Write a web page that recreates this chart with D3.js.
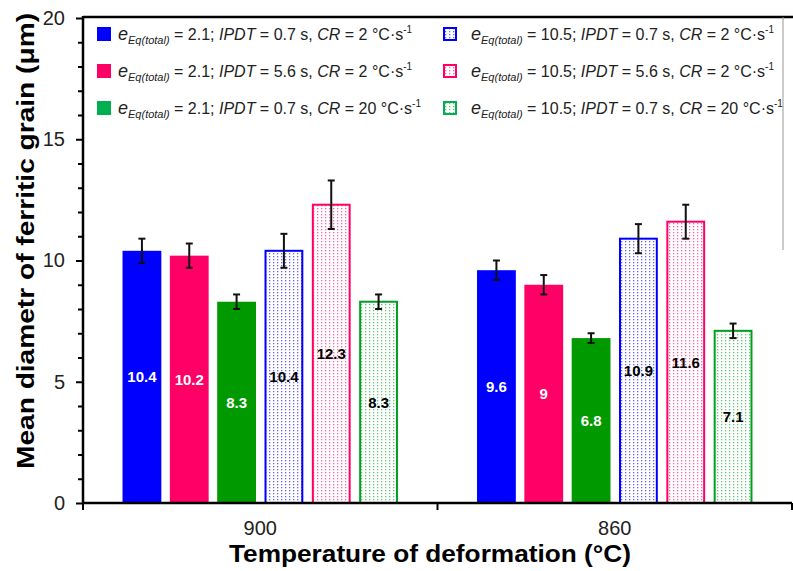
<!DOCTYPE html>
<html><head><meta charset="utf-8">
<script src="https://cdn.jsdelivr.net/npm/d3@7"></script>
<style>body{margin:0;background:#fff}svg{display:block}text{font-family:"Liberation Sans",Arial,sans-serif}</style>
</head><body>
<svg id="c" width="793" height="571"></svg>
<script>
const categories = ["900", "860"];
const seriesKeys = ["s1", "s2", "s3", "s4", "s5", "s6"];
const eqValues = ["2.1", "2.1", "2.1", "10.5", "10.5", "10.5"];
const ipdtValues = ["0.7", "5.6", "0.7", "0.7", "5.6", "0.7"];
const crValues = ["2", "2", "20", "2", "2", "20"];
const seriesColors = ["#0000ff", "#ff0066", "#009900", "#0000ff", "#ff0066", "#00a020"];
const legendColors = ["#0000ff", "#ff0066", "#00b050", "#0000ff", "#ff0066", "#00b050"];
const patterned = [false, false, false, true, true, true];
const values900 = [10.4, 10.2, 8.3, 10.4, 12.3, 8.3];
const values860 = [9.6, 9, 6.8, 10.9, 11.6, 7.1];
const errors900 = [0.5, 0.5, 0.3, 0.7, 1.0, 0.3];
const errors860 = [0.4, 0.4, 0.2, 0.6, 0.7, 0.3];
const yMajorTicks = [0, 5, 10, 15, 20];
const yMinorTicks = d3.range(0, 21, 1);

const valuesByCat = {"900": values900, "860": values860};
const errorsByCat = {"900": errors900, "860": errors860};

const svg = d3.select("#c");
const L = 83, R = 792, T = 18, B = 503;

const y = d3.scaleLinear().domain([0, 20]).range([B, T]);
const x0 = d3.scaleBand().domain(categories).range([L, R]).padding(0);
const x1 = d3.scaleBand().domain(seriesKeys).range([0, x0.bandwidth()]).paddingInner(0.18).paddingOuter(0.835);

const defs = svg.append("defs");
seriesKeys.forEach((k, i) => {
  if (!patterned[i]) return;
  const p = defs.append("pattern").attr("id", "pat" + i).attr("patternUnits", "userSpaceOnUse")
    .attr("width", 4).attr("height", 3);
  p.append("rect").attr("width", 4).attr("height", 3).attr("fill", "#fff");
  p.append("rect").attr("x", 1).attr("y", 1).attr("width", 1.3).attr("height", 1.3)
    .attr("fill", seriesColors[i]).attr("opacity", 0.6);
});

// bars
const g = svg.append("g");
categories.forEach(cat => {
  const vals = valuesByCat[cat], errs = errorsByCat[cat];
  seriesKeys.forEach((k, i) => {
    const bx = x0(cat) + x1(k), bw = x1.bandwidth();
    const v = vals[i];
    if (patterned[i]) {
      g.append("rect").attr("x", bx + 1).attr("y", y(v)).attr("width", bw - 2).attr("height", y(0) - y(v))
        .attr("fill", "url(#pat" + i + ")").attr("stroke", seriesColors[i]).attr("stroke-width", 2);
    } else {
      g.append("rect").attr("x", bx).attr("y", y(v)).attr("width", bw).attr("height", y(0) - y(v))
        .attr("fill", seriesColors[i]);
    }
    const cx = bx + bw / 2, e = errs[i];
    g.append("line").attr("x1", cx).attr("x2", cx).attr("y1", y(v + e)).attr("y2", y(v - e))
      .attr("stroke", "#111").attr("stroke-width", 2);
    [v + e, v - e].forEach(yy => g.append("line").attr("x1", cx - 3.5).attr("x2", cx + 3.5)
      .attr("y1", y(yy)).attr("y2", y(yy)).attr("stroke", "#111").attr("stroke-width", 2));
    g.append("text").attr("x", cx).attr("y", y(v / 2) + 5.5).attr("text-anchor", "middle")
      .attr("font-size", 15).attr("font-weight", "bold")
      .attr("fill", patterned[i] ? "#000" : "#fff").text(String(v));
  });
});

// top border and right thin line
svg.append("line").attr("x1", L).attr("x2", 793).attr("y1", T - 1).attr("y2", T - 1)
  .attr("stroke", "#000").attr("stroke-width", 2.5);
svg.append("line").attr("x1", 783).attr("x2", 783).attr("y1", T - 1).attr("y2", 250)
  .attr("stroke", "#999").attr("stroke-width", 1);

// y axis
const yAxisMinor = d3.axisLeft(y).tickValues(yMinorTicks.filter(t => yMajorTicks.indexOf(t) < 0))
  .tickSize(5).tickFormat("");
const ga1 = svg.append("g").attr("transform", `translate(${L},0)`).call(yAxisMinor);
ga1.select(".domain").remove();
ga1.selectAll("line").attr("stroke", "#000").attr("stroke-width", 2);
const yAxis = d3.axisLeft(y).tickValues(yMajorTicks).tickSize(7).tickPadding(11);
const ga = svg.append("g").attr("transform", `translate(${L},0)`).call(yAxis);
ga.select(".domain").attr("d", `M0,${T - 2}V${B}`).attr("stroke", "#000").attr("stroke-width", 2.5);
ga.selectAll("line").attr("stroke", "#000").attr("stroke-width", 2);
ga.selectAll("text").attr("font-size", 20).attr("fill", "#222").attr("font-family", "Liberation Sans, Arial, sans-serif");

// x axis
const xAxis = d3.axisBottom(x0).tickSize(0).tickPadding(18);
const gx = svg.append("g").attr("transform", `translate(0,${B})`).call(xAxis);
gx.select(".domain").attr("d", `M${L - 1},0H${R}`).attr("stroke", "#000").attr("stroke-width", 2.5);
gx.selectAll("text").attr("font-size", 20).attr("fill", "#222").attr("font-family", "Liberation Sans, Arial, sans-serif");
const sep = [L, x0("860"), R];
svg.append("g").selectAll("line").data(sep).join("line")
  .attr("x1", d => d).attr("x2", d => d).attr("y1", B).attr("y2", B + 7)
  .attr("stroke", "#000").attr("stroke-width", 2);

// axis titles
svg.append("text").attr("transform", `translate(34,241) rotate(-90)`)
  .attr("text-anchor", "middle").attr("font-size", 24).attr("font-weight", "bold").attr("fill", "#000")
  .attr("textLength", 456).attr("lengthAdjust", "spacingAndGlyphs")
  .text("Mean diametr of ferritic grain (μm)");
svg.append("text").attr("x", 430).attr("y", 562).attr("text-anchor", "middle")
  .attr("font-size", 24).attr("font-weight", "bold").attr("fill", "#000")
  .attr("textLength", 402).attr("lengthAdjust", "spacingAndGlyphs")
  .text("Temperature of deformation (°C)");

// legend
const legendPos = [[97, 34], [97, 71], [97, 108], [443, 34], [443, 71], [443, 108]];
const textX = [118, 118, 118, 471, 471, 471];
seriesKeys.forEach((k, i) => {
  const [lx, ly] = legendPos[i];
  if (patterned[i]) {
    svg.append("rect").attr("x", lx + 1).attr("y", ly - 6).attr("width", 12).attr("height", 12)
      .attr("fill", "url(#pat" + i + ")").attr("stroke", legendColors[i]).attr("stroke-width", 2);
  } else {
    svg.append("rect").attr("x", lx).attr("y", ly - 7).attr("width", 14).attr("height", 14)
      .attr("fill", legendColors[i]);
  }
  const t = svg.append("text").attr("x", textX[i]).attr("y", ly + 6).attr("font-size", 16).attr("fill", "#222");
  t.append("tspan").attr("font-style", "italic").attr("font-size", 18).text("e");
  t.append("tspan").attr("font-style", "italic").attr("font-size", 11).attr("dy", 4).text("Eq(total)");
  t.append("tspan").attr("dy", -4).text(` = ${eqValues[i]}; `);
  t.append("tspan").attr("font-style", "italic").text("IPDT");
  t.append("tspan").text(` = ${ipdtValues[i]} s, `);
  t.append("tspan").attr("font-style", "italic").text("CR");
  t.append("tspan").text(` = ${crValues[i]} °C·s`);
  t.append("tspan").attr("font-size", 10).attr("dy", -7).text("-1");
});
</script>
</body></html>
